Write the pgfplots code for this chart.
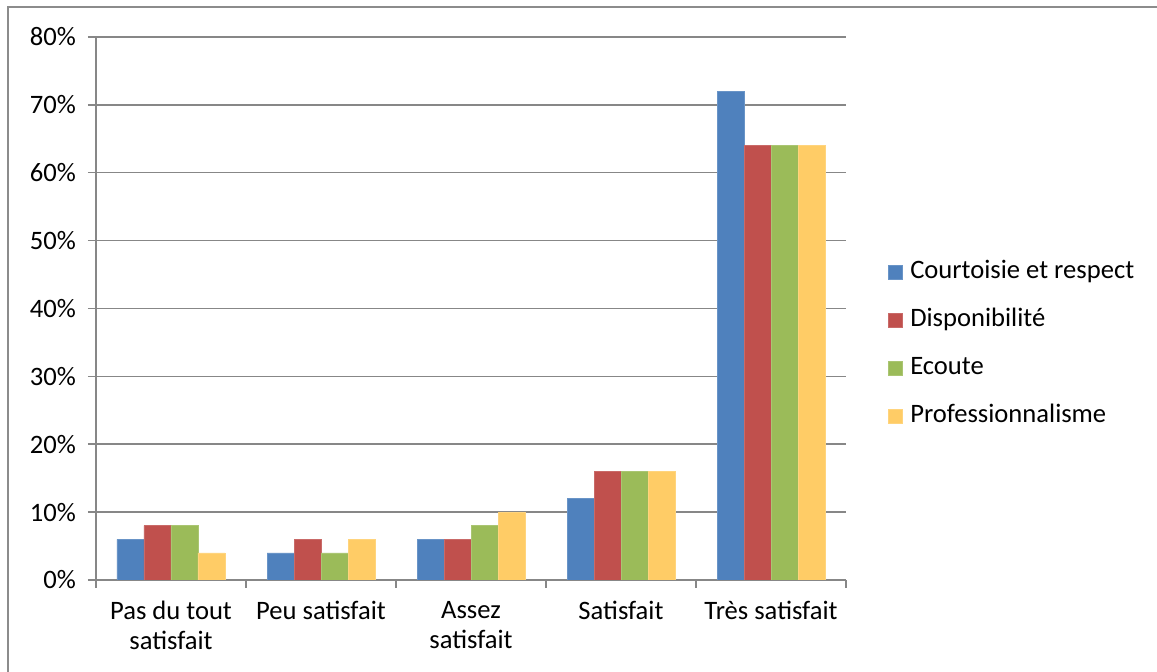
\documentclass[border=0pt]{standalone}
\usepackage{fontspec}
\setmainfont{Carlito}
\usepackage{pgfplots}
\pgfplotsset{compat=1.18}
\definecolor{cBlue}{HTML}{4F81BD}
\definecolor{cRed}{HTML}{C0504D}
\definecolor{cGreen}{HTML}{9BBB59}
\definecolor{cYellow}{HTML}{FFCC66}
\definecolor{gridgray}{HTML}{878787}
\definecolor{framegray}{HTML}{8C8C8C}
\newcommand{\lblfont}{\fontsize{13.3pt}{15pt}\selectfont}
\begin{document}
\begin{tikzpicture}
\path[use as bounding box] (-48pt,-46pt) rectangle (530.5pt,290pt);
\draw[framegray, line width=0.8pt] (-44pt,-46pt) -- (-44pt,286.5pt) -- (530.5pt,286.5pt);
\begin{axis}[
  at={(0pt,0pt)}, anchor=south west,
  scale only axis, width=375pt, height=271.5pt,
  xmin=-0.5, xmax=4.5, ymin=0, ymax=80,
  ybar=0pt, bar width=13.5pt,
  axis x line*=bottom, axis y line*=left,
  axis line style={draw=gridgray, line width=0.75pt, -},
  ymajorgrids, grid style={draw=gridgray, line width=0.75pt},
  tick align=outside, major tick length=4pt,
  ytick={0,10,...,80},
  yticklabel={\pgfmathprintnumber{\tick}\%},
  ytick style={draw=gridgray, line width=0.75pt},
  xtick={0,1,2,3,4},
  xticklabels={{Pas du tout\\satisfait},{Peu satisfait},{Assez\\satisfait},{Satisfait},{Très satisfait}},
  xtick style={draw=none},
  extra x ticks={-0.5,0.5,1.5,2.5,3.5,4.5},
  extra x tick labels={},
  extra x tick style={xtick style={draw=gridgray, line width=0.75pt}},
  xticklabel style={align=center, font=\lblfont, yshift=-3pt},
  yticklabel style={font=\lblfont, xshift=-2.5pt},
  /pgf/number format/assume math mode=true,
  legend style={at={(1.047,0.434)}, anchor=west, draw=none, fill=none,
    font=\lblfont, row sep=11.5pt,
    nodes={inner sep=0pt, text height=9.5pt, text depth=3pt}},
  legend cell align=left,
  legend image code/.code={\fill[#1] (0pt,-3.5pt) rectangle (7pt,3.5pt);},
  /tikz/every odd column/.append style={column sep=4pt},
]
\addplot[fill=cBlue, draw=cBlue!85!white, line width=0.3pt] coordinates {(0,6) (1,4) (2,6) (3,12) (4,72)};
\addplot[fill=cRed, draw=cRed!85!white, line width=0.3pt] coordinates {(0,8) (1,6) (2,6) (3,16) (4,64)};
\addplot[fill=cGreen, draw=cGreen!85!white, line width=0.3pt] coordinates {(0,8) (1,4) (2,8) (3,16) (4,64)};
\addplot[fill=cYellow, draw=cYellow!85!white, line width=0.3pt] coordinates {(0,4) (1,6) (2,10) (3,16) (4,64)};
\legend{Courtoisie et respect, Disponibilité, Ecoute, Professionnalisme}
\end{axis}
\end{tikzpicture}
\end{document}
